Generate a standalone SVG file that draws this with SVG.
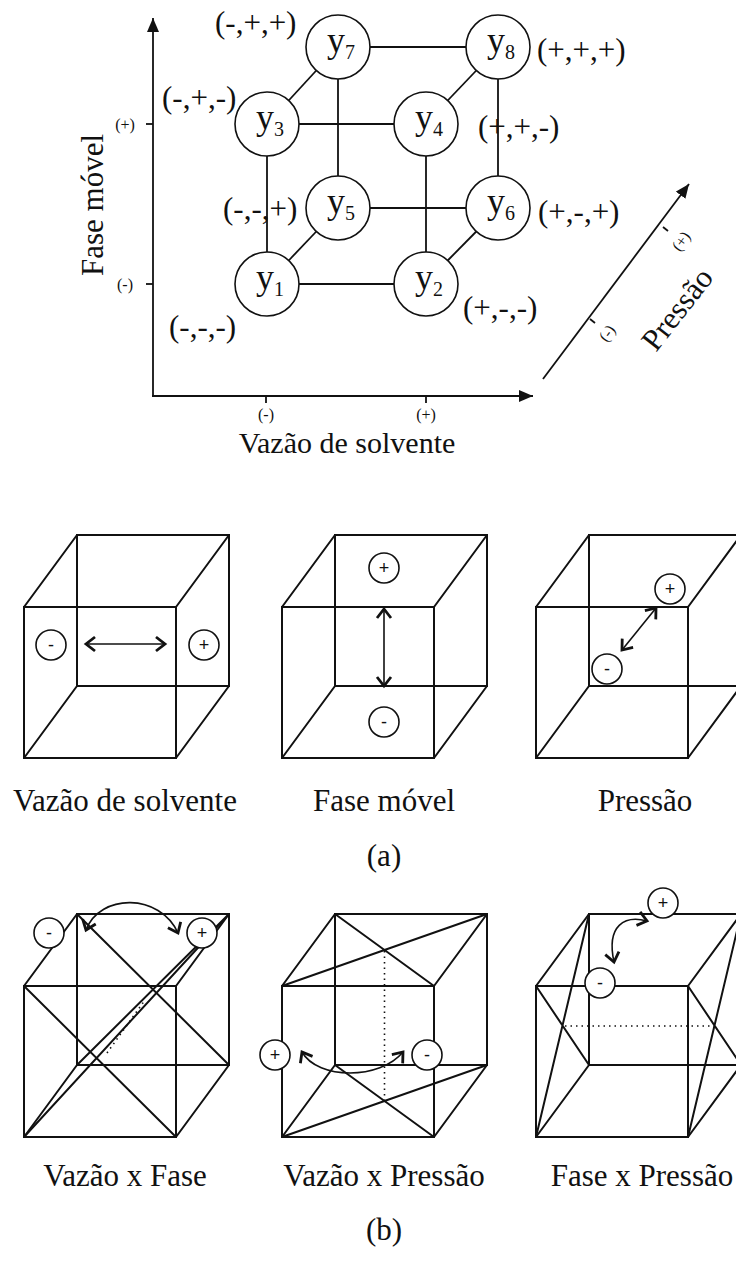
<svg xmlns="http://www.w3.org/2000/svg" width="736" height="1262" viewBox="0 0 736 1262">
<style>
.ln{stroke:#111;stroke-width:1.8;fill:none}
.cb{stroke:#111;stroke-width:2;fill:none}
.dot{stroke:#111;stroke-width:1.6;fill:none;stroke-dasharray:1.5 4}
.nd{fill:#fff;stroke:#111;stroke-width:1.6}
.sm{fill:#fff;stroke:#111;stroke-width:1.6}
.ser{font-family:"Liberation Serif","Times New Roman",serif;fill:#111}
.yl{font-size:36px}
.sub{font-size:20px}
.tup{font-size:31px}
.tk{font-size:16px}
.lab{font-size:31px}
.ps{font-family:"Liberation Sans",Arial,sans-serif;font-size:18px;fill:#111;text-anchor:middle}
.arr{stroke:#111;stroke-width:1.6;fill:none}
</style>
<defs>
<marker id="tri" viewBox="0 0 14 12" refX="14" refY="6" markerWidth="14" markerHeight="12" markerUnits="userSpaceOnUse" orient="auto"><path d="M0,0 L14,6 L0,12 z" fill="#111"/></marker>
<marker id="chev" viewBox="-12 -10 14 20" refX="0" refY="0" markerWidth="14" markerHeight="20" markerUnits="userSpaceOnUse" orient="auto-start-reverse" overflow="visible"><path d="M-9,-7 L0,0 L-9,7" fill="none" stroke="#111" stroke-width="2.8"/></marker>
</defs>
<rect width="736" height="1262" fill="#fff"/>

<!-- Top chart axes -->
<g id="axes">
<line class="ln" x1="153" y1="397" x2="153" y2="18" marker-end="url(#tri)"/>
<line class="ln" x1="152" y1="396" x2="533" y2="396" marker-end="url(#tri)"/>
<line class="ln" x1="543" y1="379" x2="689" y2="184" marker-end="url(#tri)"/>
<line class="ln" x1="146" y1="124" x2="153" y2="124"/>
<line class="ln" x1="146" y1="284" x2="153" y2="284"/>
<line class="ln" x1="266" y1="396" x2="266" y2="403"/>
<line class="ln" x1="426" y1="396" x2="426" y2="403"/>
<line class="ln" x1="590" y1="319" x2="595" y2="323"/>
<line class="ln" x1="663" y1="227" x2="668" y2="231"/>
<text class="ser tk" x="125" y="130" text-anchor="middle">(+)</text>
<text class="ser tk" x="125" y="290" text-anchor="middle">(-)</text>
<text class="ser tk" x="266" y="420" text-anchor="middle">(-)</text>
<text class="ser tk" x="426" y="420" text-anchor="middle">(+)</text>
<text class="ser tk" transform="translate(607,333) rotate(-53)" text-anchor="middle" dominant-baseline="central">(-)</text>
<text class="ser tk" transform="translate(681,241) rotate(-53)" text-anchor="middle" dominant-baseline="central">(+)</text>
<text class="ser lab" transform="translate(677,309) rotate(-52)" text-anchor="middle" dominant-baseline="central">Pressão</text>
<text class="ser lab" transform="translate(103,205) rotate(-90)" text-anchor="middle">Fase móvel</text>
<text class="ser lab" x="347" y="453" text-anchor="middle" style="font-size:30px">Vazão de solvente</text>
</g>

<!-- connectors of design cube -->
<g id="edges">
<line class="ln" x1="370" y1="47" x2="466" y2="47"/>
<line class="ln" x1="288.7" y1="100.5" x2="316.3" y2="70.5"/>
<line class="ln" x1="447.7" y1="100.5" x2="476.3" y2="70.5"/>
<line class="ln" x1="338" y1="79" x2="338" y2="176"/>
<line class="ln" x1="299" y1="124" x2="394" y2="124"/>
<line class="ln" x1="267" y1="156" x2="267" y2="252"/>
<line class="ln" x1="426" y1="156" x2="426" y2="252"/>
<line class="ln" x1="498" y1="79" x2="498" y2="176"/>
<line class="ln" x1="370" y1="208" x2="466" y2="208"/>
<line class="ln" x1="288.7" y1="260.5" x2="316.3" y2="231.5"/>
<line class="ln" x1="299" y1="284" x2="394" y2="284"/>
<line class="ln" x1="447.7" y1="260.5" x2="476.3" y2="231.5"/>
</g>

<g id="y1"><circle class="nd" cx="267" cy="284" r="32"/><text class="ser yl" x="270" y="289" text-anchor="middle">y<tspan class="sub" dy="6.5">1</tspan></text><text class="ser tup" x="169" y="337">(-,-,-)</text></g>
<g id="y2"><circle class="nd" cx="426" cy="284" r="32"/><text class="ser yl" x="429" y="289" text-anchor="middle">y<tspan class="sub" dy="6.5">2</tspan></text><text class="ser tup" x="463" y="318">(+,-,-)</text></g>
<g id="y3"><circle class="nd" cx="267" cy="124" r="32"/><text class="ser yl" x="270" y="129" text-anchor="middle">y<tspan class="sub" dy="6.5">3</tspan></text><text class="ser tup" x="162" y="108">(-,+,-)</text></g>
<g id="y4"><circle class="nd" cx="426" cy="124" r="32"/><text class="ser yl" x="429" y="129" text-anchor="middle">y<tspan class="sub" dy="6.5">4</tspan></text><text class="ser tup" x="478" y="137">(+,+,-)</text></g>
<g id="y5"><circle class="nd" cx="338" cy="208" r="32"/><text class="ser yl" x="341" y="213" text-anchor="middle">y<tspan class="sub" dy="6.5">5</tspan></text><text class="ser tup" x="223" y="219">(-,-,+)</text></g>
<g id="y6"><circle class="nd" cx="498" cy="208" r="32"/><text class="ser yl" x="501" y="213" text-anchor="middle">y<tspan class="sub" dy="6.5">6</tspan></text><text class="ser tup" x="538" y="222">(+,-,+)</text></g>
<g id="y7"><circle class="nd" cx="338" cy="47" r="32"/><text class="ser yl" x="341" y="52" text-anchor="middle">y<tspan class="sub" dy="6.5">7</tspan></text><text class="ser tup" x="215" y="33">(-,+,+)</text></g>
<g id="y8"><circle class="nd" cx="498" cy="47" r="32"/><text class="ser yl" x="501" y="52" text-anchor="middle">y<tspan class="sub" dy="6.5">8</tspan></text><text class="ser tup" x="537" y="60">(+,+,+)</text></g>

<!-- (a) row -->
<g id="cube-a1">
<rect class="cb" x="77" y="535" width="152" height="151"/>
<rect class="cb" x="24" y="607" width="152" height="151"/>
<path class="cb" d="M24,607 L77,535 M176,607 L229,535 M24,758 L77,686 M176,758 L229,686"/>
<line class="arr" x1="86" y1="644" x2="165" y2="644" marker-start="url(#chev)" marker-end="url(#chev)"/>
<circle class="sm" cx="51" cy="645" r="15"/><text class="ps" x="51" y="651">-</text>
<circle class="sm" cx="204" cy="645" r="15"/><text class="ps" x="204" y="651">+</text>
<text class="ser lab" x="125" y="811" text-anchor="middle">Vazão de solvente</text>
</g>
<g id="cube-a2">
<rect class="cb" x="335" y="535" width="152" height="151"/>
<rect class="cb" x="282" y="607" width="152" height="151"/>
<path class="cb" d="M282,607 L335,535 M434,607 L487,535 M282,758 L335,686 M434,758 L487,686"/>
<line class="arr" x1="384" y1="609" x2="384" y2="686" marker-start="url(#chev)" marker-end="url(#chev)"/>
<circle class="sm" cx="384" cy="568" r="15"/><text class="ps" x="384" y="574">+</text>
<circle class="sm" cx="384" cy="722" r="15"/><text class="ps" x="384" y="728">-</text>
<text class="ser lab" x="384" y="811" text-anchor="middle">Fase móvel</text>
</g>
<g id="cube-a3">
<rect class="cb" x="589" y="535" width="152" height="151"/>
<rect class="cb" x="536" y="607" width="152" height="151"/>
<path class="cb" d="M536,607 L589,535 M688,607 L741,535 M536,758 L589,686 M688,758 L741,686"/>
<line class="arr" x1="656" y1="608" x2="622" y2="650" marker-start="url(#chev)" marker-end="url(#chev)"/>
<circle class="sm" cx="670" cy="589" r="15"/><text class="ps" x="670" y="595">+</text>
<circle class="sm" cx="607" cy="669" r="15"/><text class="ps" x="607" y="675">-</text>
<text class="ser lab" x="645" y="811" text-anchor="middle">Pressão</text>
</g>
<text class="ser lab" x="384" y="866" text-anchor="middle">(a)</text>

<!-- (b) row -->
<g id="cube-b1">
<rect class="cb" x="77" y="914" width="152" height="151"/>
<rect class="cb" x="24" y="986" width="152" height="151"/>
<path class="cb" d="M24,986 L77,914 M176,986 L229,914 M24,1137 L77,1065 M176,1137 L229,1065"/>
<path class="cb" d="M24,986 L176,1137 M77,914 L229,1065 M77,1065 L229,914 M24,1137 L229,914"/>
<line class="dot" x1="107" y1="1053" x2="145" y2="1000"/>
<path class="arr" d="M86,930 C100,893 160,893 178,933" marker-start="url(#chev)" marker-end="url(#chev)"/>
<circle class="sm" cx="49" cy="933" r="15"/><text class="ps" x="49" y="939">-</text>
<circle class="sm" cx="202" cy="933" r="15"/><text class="ps" x="202" y="939">+</text>
<text class="ser lab" x="125" y="1186" text-anchor="middle">Vazão x Fase</text>
</g>
<g id="cube-b2">
<rect class="cb" x="335" y="914" width="152" height="151"/>
<rect class="cb" x="282" y="986" width="152" height="151"/>
<path class="cb" d="M282,986 L335,914 M434,986 L487,914 M282,1137 L335,1065 M434,1137 L487,1065"/>
<path class="cb" d="M335,914 L434,986 M282,986 L487,914 M335,1065 L434,1137 M282,1137 L487,1065"/>
<line class="dot" x1="384.5" y1="951" x2="384.5" y2="1100"/>
<path class="arr" d="M302,1052 C318,1080 380,1080 403,1052" marker-start="url(#chev)" marker-end="url(#chev)"/>
<circle class="sm" cx="275" cy="1055" r="15"/><text class="ps" x="275" y="1061">+</text>
<circle class="sm" cx="427" cy="1055" r="15"/><text class="ps" x="427" y="1061">-</text>
<text class="ser lab" x="384" y="1186" text-anchor="middle">Vazão x Pressão</text>
</g>
<g id="cube-b3">
<rect class="cb" x="589" y="914" width="152" height="151"/>
<rect class="cb" x="536" y="986" width="152" height="151"/>
<path class="cb" d="M536,986 L589,914 M688,986 L741,914 M536,1137 L589,1065 M688,1137 L741,1065"/>
<path class="cb" d="M536,986 L589,1065 M536,1137 L589,914 M688,986 L741,1065 M688,1137 L741,914"/>
<line class="dot" x1="565" y1="1026" x2="714" y2="1026"/>
<path class="arr" d="M614,962 C606,925 625,915 647,921" marker-start="url(#chev)" marker-end="url(#chev)"/>
<circle class="sm" cx="663" cy="903" r="15"/><text class="ps" x="663" y="909">+</text>
<circle class="sm" cx="600" cy="983" r="15"/><text class="ps" x="600" y="989">-</text>
<text class="ser lab" x="642" y="1186" text-anchor="middle">Fase x Pressão</text>
</g>
<text class="ser lab" x="384" y="1240" text-anchor="middle">(b)</text>
</svg>
